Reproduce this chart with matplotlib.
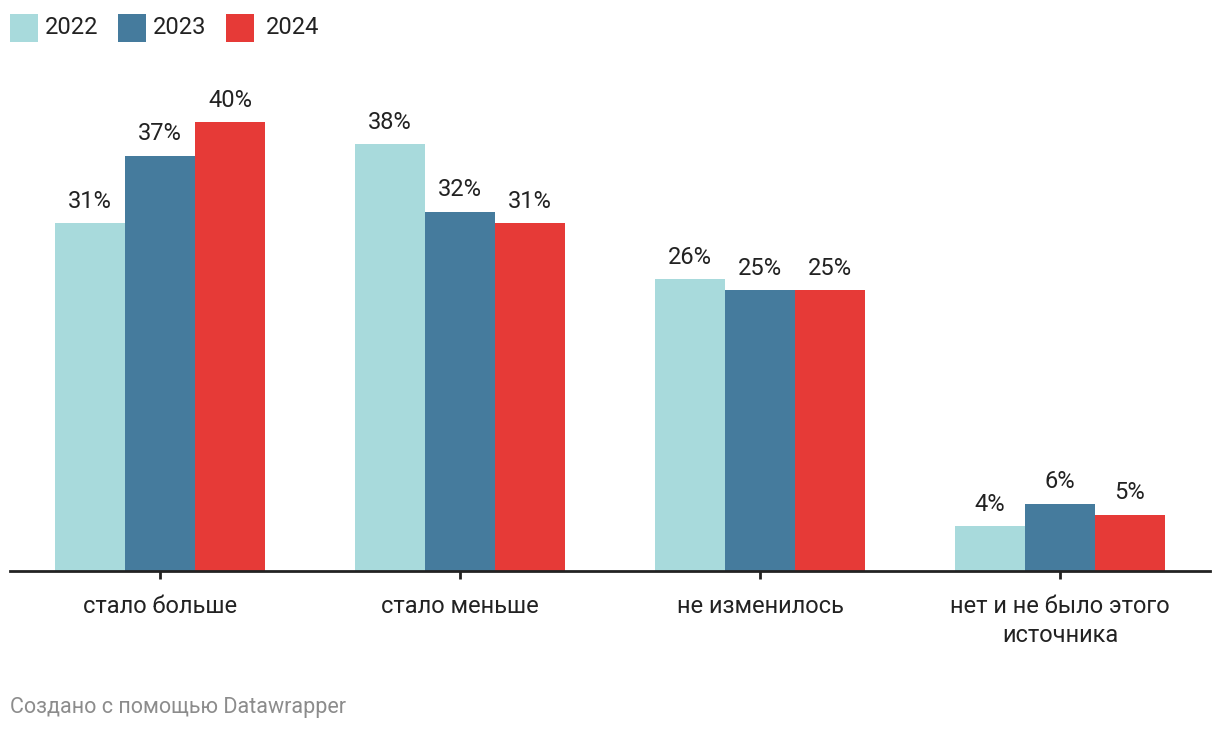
import matplotlib
matplotlib.use("Agg")
import matplotlib.pyplot as plt
import numpy as np
from matplotlib.patches import Rectangle

plt.rcParams['font.family'] = ['Roboto', 'DejaVu Sans']

categories = ["стало больше", "стало меньше", "не изменилось", "нет и не было этого\nисточника"]
years = ["2022", "2023", "2024"]
v2022 = [31, 38, 26, 4]
v2023 = [37, 32, 25, 6]
v2024 = [40, 31, 25, 5]
colors = ["#a8dadc", "#457b9d", "#e63a37"]
series = [v2022, v2023, v2024]

W, H = 1220, 732
fig = plt.figure(figsize=(W/100, H/100), dpi=100)
ax = fig.add_axes([10/W, (H-571)/H, 1200/W, (571-122)/H])

x = np.arange(len(categories))
bw = 70/300
for i, (vals, c) in enumerate(zip(series, colors)):
    pos = x + (i-1)*bw
    ax.bar(pos, vals, width=bw, color=c, linewidth=0)
    for p, v in zip(pos, vals):
        ax.annotate(f"{v}%", (p, v), xytext=(0, 7.5), textcoords="offset points",
                    ha="center", va="bottom", fontsize=17, color="#222222",
                    annotation_clip=False)

ax.set_xlim(-0.5, 3.5)
ax.set_ylim(0, 40)
for s in ["top", "right", "left"]:
    ax.spines[s].set_visible(False)
ax.spines["bottom"].set_linewidth(2)
ax.spines["bottom"].set_color("#222222")
ax.set_yticks([])
ax.set_xticks(x)
ax.set_xticklabels(categories, fontsize=17, color="#222222", linespacing=1.3)
ax.tick_params(axis="x", length=6, width=2, color="#222222", pad=11.5)

# legend
for i, (yr, c) in enumerate(zip(years, colors)):
    sx = [10, 118, 226][i]
    tx = [45, 153, 266][i]
    fig.patches.append(Rectangle((sx/W, (H-42)/H), 28/W, 28/H, transform=fig.transFigure,
                                 facecolor=c, edgecolor="none"))
    fig.text(tx/W, (H-27)/H, yr, fontsize=17, color="#222222", va="center", ha="left")

fig.text(10/W, (H-707.5)/H, "Создано с помощью Datawrapper", fontsize=15.5, color="#8c8c8c",
         va="center", ha="left")

fig.savefig("out.png", dpi=100, facecolor="white")
